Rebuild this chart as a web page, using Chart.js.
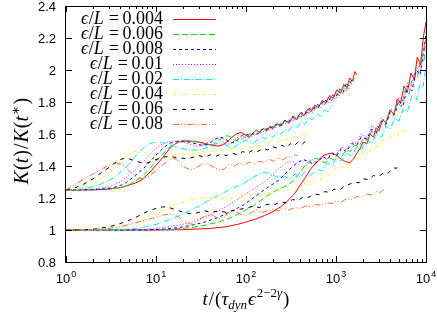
<!DOCTYPE html>
<html>
<head>
<meta charset="utf-8">
<script src="https://cdn.jsdelivr.net/npm/chart.js@4.4.1/dist/chart.umd.min.js"></script>
<style>
  html, body { margin: 0; background: #fff; }
</style>
</head>
<body>
<canvas id="chart" width="437" height="314"></canvas>
<script>
// values: [t, K(t)/K(t*)]
const epsLabels = ["0.004", "0.006", "0.008", "0.01", "0.02", "0.04", "0.06", "0.08"];
const xDecades = [0, 1, 2, 3, 4];
const yTicks = [0.8, 1, 1.2, 1.4, 1.6, 1.8, 2, 2.2, 2.4];

const up004 = [[1,1.25],[2,1.251],[3,1.255],[4,1.265],[5,1.28],[6,1.295],[7,1.315],[8,1.345],[9,1.375],[10,1.405],[11,1.43],[12.5,1.47],[14,1.505],[16,1.535],[18,1.55],[20,1.556],[24,1.556],[28,1.553],[33,1.545],[38,1.535],[44,1.527],[50,1.525],[56,1.535],[63,1.555],[70,1.58],[78,1.6],[88,1.61],[98,1.595],[108,1.58],[118,1.6],[130,1.625],[142,1.61],[155,1.635],[170,1.62],[185,1.65],[200,1.635],[220,1.665],[245,1.65],[270,1.685],[300,1.67],[330,1.705],[365,1.69],[400,1.73],[440,1.715],[485,1.755],[530,1.74],[580,1.78],[640,1.765],[700,1.81],[770,1.795],[850,1.84],[930,1.825],[1020,1.875],[1120,1.855],[1220,1.91],[1320,1.89],[1420,1.95],[1520,1.93],[1620,1.99],[1700,1.97]];
const up006 = [[1,1.25],[2,1.251],[3,1.256],[4,1.265],[4.6,1.275],[5.3,1.29],[6,1.31],[6.8,1.33],[7.6,1.355],[8.5,1.385],[9.5,1.415],[11,1.455],[12.5,1.49],[14,1.515],[16,1.54],[18,1.552],[21,1.557],[24,1.556],[28,1.55],[32,1.54],[36,1.532],[40,1.53],[45,1.54],[50,1.56],[56,1.58],[62,1.59],[68,1.58],[75,1.56],[83,1.555],[92,1.57],[100,1.59],[110,1.6],[122,1.595],[135,1.615],[150,1.61],[165,1.635],[180,1.625],[200,1.65],[220,1.64],[245,1.67],[270,1.66],[300,1.69],[330,1.68],[370,1.715],[410,1.705],[450,1.74],[500,1.73],[550,1.765],[610,1.755],[670,1.79],[740,1.78],[820,1.82],[900,1.81],[1000,1.85],[1100,1.84],[1200,1.89],[1300,1.87],[1400,1.93],[1500,1.91],[1600,1.95]];
const up008 = [[1,1.25],[2,1.252],[3,1.26],[3.5,1.268],[4,1.278],[4.6,1.295],[5.3,1.32],[6,1.345],[6.8,1.37],[7.6,1.395],[8.5,1.425],[9.5,1.455],[11,1.49],[12.5,1.52],[14,1.54],[16,1.552],[18,1.556],[21,1.555],[24,1.548],[28,1.538],[32,1.53],[36,1.532],[40,1.545],[45,1.565],[50,1.58],[56,1.575],[62,1.56],[68,1.545],[75,1.55],[83,1.57],[92,1.595],[100,1.6],[110,1.59],[122,1.61],[135,1.6],[150,1.63],[165,1.62],[180,1.645],[200,1.635],[220,1.665],[245,1.655],[270,1.685],[300,1.675],[330,1.71],[370,1.7],[410,1.735],[450,1.72],[500,1.76],[550,1.75],[610,1.785],[670,1.775],[740,1.815],[820,1.8],[900,1.845],[1000,1.83],[1100,1.88],[1200,1.86],[1300,1.92],[1400,1.9],[1500,1.94]];
const up01 = [[1,1.25],[1.5,1.251],[2,1.255],[2.5,1.262],[3,1.27],[3.5,1.285],[4,1.3],[4.6,1.325],[5.3,1.355],[6,1.38],[6.8,1.41],[7.6,1.44],[8.5,1.47],[9.5,1.5],[11,1.53],[12.5,1.545],[14,1.553],[16,1.555],[18,1.553],[21,1.545],[24,1.535],[28,1.525],[32,1.525],[36,1.54],[40,1.56],[45,1.575],[50,1.57],[56,1.55],[62,1.535],[68,1.54],[75,1.56],[83,1.585],[92,1.59],[100,1.58],[110,1.575],[122,1.6],[135,1.595],[150,1.62],[165,1.61],[180,1.635],[200,1.625],[220,1.655],[245,1.645],[270,1.675],[300,1.665],[330,1.7],[370,1.69],[410,1.72],[450,1.71],[500,1.745],[550,1.735],[610,1.77],[670,1.76],[740,1.8],[820,1.79],[900,1.83],[1000,1.82],[1100,1.87],[1200,1.85],[1300,1.9],[1400,1.88]];
const up02 = [[1,1.25],[1.3,1.252],[1.6,1.26],[2,1.27],[2.5,1.29],[3,1.31],[3.5,1.33],[4,1.36],[4.5,1.385],[5,1.41],[5.7,1.45],[6.5,1.49],[7.5,1.52],[8.5,1.54],[10,1.55],[11.5,1.548],[13,1.54],[15,1.53],[18,1.515],[21,1.505],[25,1.5],[30,1.5],[35,1.51],[40,1.525],[46,1.54],[52,1.545],[58,1.535],[65,1.52],[72,1.515],[80,1.53],[90,1.55],[100,1.56],[110,1.55],[122,1.545],[135,1.565],[150,1.58],[165,1.57],[180,1.59],[200,1.58],[220,1.61],[245,1.6],[270,1.63],[300,1.62],[330,1.65],[370,1.64],[410,1.68],[450,1.66],[500,1.7],[550,1.69],[610,1.73],[670,1.71],[740,1.75],[820,1.74],[900,1.78]];
const up04 = [[1,1.25],[1.3,1.255],[1.6,1.265],[2,1.285],[2.5,1.32],[3,1.355],[3.5,1.39],[4,1.42],[4.5,1.45],[5,1.47],[5.5,1.485],[6.3,1.495],[7,1.49],[8,1.48],[9,1.47],[10,1.46],[12,1.455],[14,1.46],[17,1.47],[20,1.475],[24,1.47],[28,1.48],[33,1.49],[38,1.48],[44,1.5],[50,1.49],[58,1.505],[66,1.5],[76,1.515],[88,1.505],[100,1.52],[115,1.515],[130,1.53],[150,1.525],[170,1.545],[190,1.54],[215,1.555],[240,1.55],[270,1.57],[300,1.565],[340,1.585],[380,1.58],[420,1.6],[470,1.595],[520,1.625]];
const up06 = [[1,1.25],[1.2,1.26],[1.5,1.28],[2,1.32],[2.5,1.36],[3,1.39],[3.5,1.42],[4,1.44],[4.5,1.45],[5,1.445],[6,1.43],[7,1.42],[8,1.42],[9,1.43],[10,1.44],[12,1.455],[14,1.46],[16,1.455],[19,1.45],[22,1.445],[26,1.455],[30,1.465],[35,1.455],[40,1.47],[46,1.46],[53,1.475],[60,1.465],[70,1.48],[80,1.47],[92,1.49],[105,1.48],[120,1.5],[135,1.49],[155,1.51],[175,1.5],[200,1.52],[225,1.51],[250,1.53],[280,1.515],[310,1.54],[340,1.525],[380,1.55],[420,1.535],[460,1.555],[500,1.545]];
const up08 = [[1,1.25],[1.1,1.265],[1.3,1.29],[1.6,1.32],[2,1.35],[2.4,1.375],[3,1.405],[3.6,1.417],[4.2,1.41],[4.8,1.38],[5.5,1.35],[6.2,1.325],[7,1.32],[8,1.33],[9,1.35],[10,1.37],[12,1.41],[14,1.44],[15.5,1.45],[17,1.44],[19,1.41],[22,1.385],[25,1.375],[28,1.39],[32,1.41],[37,1.415],[43,1.395],[50,1.375],[57,1.38],[65,1.41],[75,1.4],[85,1.42],[95,1.405],[110,1.425],[125,1.41],[140,1.43],[160,1.42],[180,1.445],[200,1.43],[230,1.45],[260,1.44],[290,1.46],[320,1.45],[350,1.47],[370,1.465]];

const low004 = [[1,1],[10,1],[20,1.002],[40,1.01],[60,1.02],[80,1.035],[100,1.05],[130,1.07],[160,1.09],[200,1.115],[250,1.15],[300,1.19],[350,1.23],[400,1.28],[460,1.33],[520,1.38],[600,1.42],[700,1.46],[800,1.475],[900,1.48],[1000,1.47],[1100,1.45],[1250,1.43],[1400,1.42],[1550,1.44],[1700,1.48],[1850,1.51],[2000,1.55],[2200,1.54],[2400,1.6],[2600,1.58],[2800,1.64],[3000,1.62],[3300,1.69],[3600,1.67],[4000,1.75],[4400,1.72],[4800,1.82],[5200,1.79],[5700,1.9],[6200,1.86],[6800,1.98],[7400,1.94],[8000,2.08],[8700,2.03],[9300,2.2],[10000,2.3]];
const low006 = [[1,1],[9,1],[15,1.005],[25,1.015],[35,1.03],[50,1.05],[70,1.08],[95,1.12],[120,1.15],[150,1.19],[190,1.23],[240,1.26],[290,1.28],[340,1.31],[400,1.36],[460,1.41],[530,1.44],[600,1.45],[680,1.43],[760,1.42],[850,1.45],[950,1.44],[1050,1.48],[1150,1.46],[1300,1.5],[1450,1.49],[1600,1.53],[1800,1.52],[2000,1.57],[2200,1.56],[2500,1.62],[2800,1.6],[3100,1.67],[3500,1.65],[3900,1.73],[4300,1.71],[4800,1.8],[5300,1.77],[5900,1.88],[6500,1.85],[7200,1.97],[8000,1.95],[8800,2.08],[9500,2.05],[10000,2.24]];
const low008 = [[1,1],[7,1],[12,1.005],[18,1.015],[25,1.03],[35,1.05],[50,1.08],[70,1.12],[90,1.15],[120,1.2],[150,1.24],[190,1.28],[230,1.31],[270,1.35],[320,1.39],[370,1.42],[430,1.44],[490,1.43],[560,1.41],[640,1.43],[720,1.46],[800,1.44],[900,1.48],[1000,1.46],[1150,1.51],[1300,1.49],[1500,1.54],[1700,1.53],[1900,1.58],[2200,1.57],[2500,1.63],[2800,1.61],[3200,1.68],[3600,1.66],[4000,1.74],[4500,1.72],[5000,1.81],[5600,1.78],[6200,1.9],[7000,1.87],[7800,2],[8600,1.97],[9300,2.1],[10000,2.22]];
const low01 = [[1,1],[5,1],[8,1.005],[12,1.015],[18,1.03],[25,1.05],[35,1.08],[50,1.12],[70,1.17],[90,1.21],[110,1.24],[140,1.28],[170,1.31],[200,1.35],[240,1.39],[280,1.42],[330,1.43],[380,1.41],[430,1.39],[480,1.41],[550,1.44],[620,1.42],[700,1.46],[800,1.44],[900,1.49],[1000,1.47],[1150,1.52],[1300,1.5],[1500,1.55],[1700,1.54],[1900,1.6],[2200,1.58],[2500,1.65],[2800,1.63],[3200,1.7],[3600,1.68],[4000,1.76],[4500,1.74],[5000,1.83],[5600,1.8],[6200,1.92],[7000,1.89],[7800,2.02],[8600,1.98],[9300,2.12],[10000,2.18]];
const low02 = [[1,1],[3,1],[5,1.005],[7,1.015],[10,1.035],[15,1.07],[20,1.1],[30,1.15],[40,1.19],[55,1.23],[70,1.26],[85,1.28],[100,1.3],[120,1.33],[140,1.35],[160,1.36],[190,1.35],[220,1.33],[260,1.34],[300,1.32],[350,1.35],[400,1.33],[450,1.36],[520,1.34],[600,1.38],[700,1.37],[800,1.42],[900,1.4],[1000,1.45],[1150,1.43],[1300,1.48],[1500,1.46],[1700,1.52],[1900,1.5],[2200,1.56],[2500,1.54],[2800,1.6],[3200,1.58],[3600,1.65],[4000,1.63],[4500,1.7],[5000,1.68],[5600,1.76],[6200,1.74],[7000,1.84],[7800,1.81],[8600,1.92],[9300,1.9],[10000,2.02]];
const low04 = [[1,1],[1.5,1],[2,1.002],[3,1.008],[4,1.015],[5,1.03],[6,1.045],[8,1.07],[10,1.1],[13,1.13],[16,1.155],[20,1.175],[25,1.19],[30,1.2],[40,1.205],[50,1.2],[60,1.19],[70,1.2],[85,1.21],[100,1.205],[120,1.22],[140,1.21],[170,1.235],[200,1.23],[240,1.25],[280,1.24],[330,1.27],[380,1.26],[440,1.29],[500,1.28],[580,1.32],[660,1.31],[750,1.35],[850,1.34],[950,1.38],[1100,1.37],[1250,1.41],[1400,1.4],[1600,1.45],[1800,1.44],[2000,1.49],[2300,1.48],[2600,1.53],[3000,1.52],[3400,1.57],[3800,1.56],[4300,1.6],[4800,1.59],[5400,1.63],[6000,1.61],[6900,1.64]];
const low06 = [[1,1],[1.5,1],[2,1.005],[3,1.02],[4,1.04],[5,1.06],[6,1.08],[7,1.1],[8,1.115],[10,1.135],[12,1.145],[14,1.14],[17,1.125],[20,1.11],[25,1.1],[30,1.11],[35,1.12],[40,1.11],[50,1.12],[60,1.11],[70,1.12],[85,1.13],[100,1.135],[120,1.15],[140,1.14],[170,1.16],[200,1.155],[240,1.175],[280,1.17],[330,1.19],[380,1.185],[440,1.21],[500,1.205],[580,1.225],[660,1.22],[750,1.24],[850,1.235],[950,1.255],[1100,1.25],[1250,1.275],[1400,1.285],[1600,1.3],[1800,1.295],[2000,1.32],[2300,1.315],[2600,1.34],[3000,1.335],[3400,1.36],[3800,1.355],[4300,1.39],[4700,1.385],[5000,1.41]];
const low08 = [[1,1],[1.5,1],[2,1.003],[3,1.01],[4,1.02],[5,1.035],[6,1.045],[8,1.065],[10,1.08],[12,1.093],[14,1.1],[16,1.095],[18,1.08],[20,1.06],[23,1.04],[26,1.035],[30,1.06],[35,1.09],[40,1.1],[45,1.085],[50,1.07],[57,1.08],[65,1.11],[75,1.12],[85,1.1],[100,1.09],[115,1.11],[130,1.125],[150,1.11],[170,1.12],[200,1.13],[230,1.12],[260,1.135],[300,1.125],[350,1.14],[400,1.135],[460,1.15],[530,1.145],[600,1.16],[700,1.155],[800,1.17],[900,1.165],[1000,1.18],[1150,1.175],[1300,1.195],[1500,1.19],[1700,1.21],[1900,1.205],[2200,1.225],[2500,1.22],[2800,1.24],[3100,1.235],[3500,1.26]];

const upperCurves = [up004, up006, up008, up01, up02, up04, up06, up08];
const lowerCurves = [low004, low006, low008, low01, low02, low04, low06, low08];

const colors = ["#ff0000", "#00e000", "#0000ff", "#ff00ff", "#00e8e8", "#ffff00", "#000000", "#ff6a30"];
const dashes = [[], [6, 3], [3, 3], [1, 2], [6, 2, 1, 2], [3, 3, 1, 3], [4, 5], [6, 2, 1, 2, 1, 2]];

const serif = "'Liberation Serif', 'DejaVu Serif', serif";
const sans = "'Liberation Sans', Arial, sans-serif";

function datasetsFor() {
  const out = [];
  epsLabels.forEach((lab, i) => {
    [upperCurves[i], lowerCurves[i]].forEach((d) => {
      out.push({
        label: lab,
        data: d,
        borderColor: colors[i],
        borderWidth: 1,
        borderDash: dashes[i],
        pointRadius: 0,
        fill: false,
        tension: 0,
      });
    });
  });
  // draw the first legend entries on top
  return out.reverse();
}

// write a small math string made of pieces, return its width
function mathPieces(ctx, pieces, x, base, size, draw) {
  let cx = x;
  pieces.forEach((p) => {
    const sz = p.sup || p.sub ? Math.round(size * 0.7) : size;
    ctx.font = `${p.it ? "italic " : ""}${sz}px ${serif}`;
    const dy = p.sup ? -size * 0.42 : p.sub ? size * 0.22 : 0;
    if (draw) ctx.fillText(p.s, cx, base + dy);
    cx += ctx.measureText(p.s).width + (p.gap || 0);
  });
  return cx - x;
}

const decorations = {
  id: "decorations",
  afterDraw(chart) {
    const { ctx, chartArea: a, scales } = chart;
    const x = scales.x, y = scales.y;
    ctx.save();
    ctx.strokeStyle = "#000";
    ctx.fillStyle = "#000";
    ctx.lineWidth = 1;
    ctx.setLineDash([]);
    ctx.strokeRect(a.left - 0.5, a.top + 0.5, a.right - a.left + 1, a.bottom - a.top);

    // x ticks, top and bottom
    ctx.beginPath();
    for (let d = 0; d < 4; d++) {
      for (let m = 1; m <= 9; m++) {
        const px = Math.round(x.getPixelForValue(m * Math.pow(10, d))) + 0.5;
        const len = m === 1 ? 6 : 3;
        ctx.moveTo(px, a.bottom); ctx.lineTo(px, a.bottom - len);
        ctx.moveTo(px, a.top); ctx.lineTo(px, a.top + len);
      }
    }
    // y ticks, left and right
    yTicks.forEach((v) => {
      const py = Math.round(y.getPixelForValue(v)) + 0.5;
      ctx.moveTo(a.left, py); ctx.lineTo(a.left + 6, py);
      ctx.moveTo(a.right, py); ctx.lineTo(a.right - 6, py);
    });
    ctx.stroke();

    // y tick labels
    ctx.font = `13px ${sans}`;
    ctx.textAlign = "right";
    ctx.textBaseline = "middle";
    yTicks.forEach((v) => {
      ctx.fillText(String(v), a.left - 10, y.getPixelForValue(v) + 1);
    });

    // x tick labels 10^n
    ctx.textAlign = "left";
    ctx.textBaseline = "alphabetic";
    xDecades.forEach((n) => {
      const px = x.getPixelForValue(Math.pow(10, n));
      ctx.font = `13px ${sans}`;
      const wb = ctx.measureText("10").width;
      ctx.font = `9px ${sans}`;
      const we = ctx.measureText(String(n)).width;
      const x0 = px - (wb + we + 1) / 2;
      ctx.font = `13px ${sans}`;
      ctx.fillText("10", x0, 283);
      ctx.font = `9px ${sans}`;
      ctx.fillText(String(n), x0 + wb + 1, 277);
    });

    // x axis title
    const xt = [
      { s: "t", it: true, gap: 1 }, { s: "/", gap: 1 }, { s: "(" }, { s: "τ", it: true },
      { s: "dyn", it: true, sub: true, gap: 1 }, { s: "ϵ", it: true, gap: 1 },
      { s: "2−2", sup: true }, { s: "γ", it: true, sup: true, gap: 1 }, { s: ")" },
    ];
    const xw = mathPieces(ctx, xt, 0, 0, 19, false);
    mathPieces(ctx, xt, 246 - xw / 2, 305, 19, true);

    // y axis title
    const yt = [
      { s: "K", it: true, gap: 1 }, { s: "(" }, { s: "t", it: true, gap: 1 }, { s: ")", gap: 1 },
      { s: "/", gap: 1 }, { s: "K", it: true, gap: 1 }, { s: "(" }, { s: "t", it: true, gap: 1 },
      { s: "∗", sup: true, gap: 1 }, { s: ")" },
    ];
    ctx.save();
    ctx.translate(28, 141);
    ctx.rotate(-Math.PI / 2);
    const yw = mathPieces(ctx, yt, 0, 0, 20, false);
    mathPieces(ctx, yt, -yw / 2, 0, 20, true);
    ctx.restore();

    // legend
    epsLabels.forEach((lab, i) => {
      const cy = 18.5 + 15 * i;
      const base = cy + 5;
      ctx.font = `18px ${serif}`;
      const numX = 163 - ctx.measureText(lab).width;
      ctx.fillText(lab, numX, base);
      const eqX = numX - 3.5 - ctx.measureText("=").width;
      ctx.fillText("=", eqX, base);
      ctx.font = `italic 18px ${serif}`;
      const lX = eqX - 5 - ctx.measureText("L").width;
      ctx.fillText("L", lX, base);
      ctx.font = `18px ${serif}`;
      const sX = lX - ctx.measureText("/").width;
      ctx.fillText("/", sX, base);
      ctx.font = `italic 18px ${serif}`;
      const eX = sX - 0.5 - ctx.measureText("ϵ").width;
      ctx.fillText("ϵ", eX, base);

      ctx.beginPath();
      ctx.strokeStyle = colors[i];
      ctx.setLineDash(dashes[i]);
      ctx.moveTo(173, Math.round(cy) + 0.5);
      ctx.lineTo(216, Math.round(cy) + 0.5);
      ctx.stroke();
      ctx.setLineDash([]);
    });
    ctx.restore();
  },
};

new Chart(document.getElementById("chart"), {
  type: "line",
  data: { datasets: datasetsFor() },
  options: {
    responsive: false,
    animation: false,
    layout: { padding: { left: 66, right: 11, top: 6, bottom: 52 } },
    plugins: { legend: { display: false }, tooltip: { enabled: false } },
    scales: {
      x: { type: "logarithmic", min: 1, max: 10000, display: false },
      y: { type: "linear", min: 0.8, max: 2.4, display: false },
    },
  },
  plugins: [decorations],
});
</script>
</body>
</html>
